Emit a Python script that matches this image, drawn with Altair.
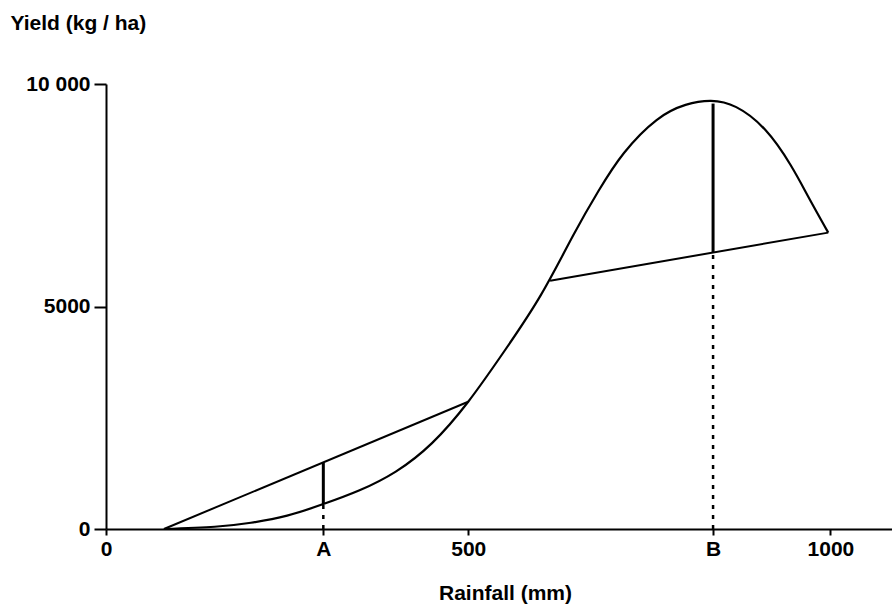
import altair as alt
import pandas as pd

# Yield curve
rain_mm = [80, 150, 200, 250, 300, 350, 400, 450, 500, 550, 600, 645, 680, 715,
           760, 800, 835, 870, 910, 945, 970, 997]
yield_kg = [0, 50, 140, 300, 560, 870, 1290, 1930, 2860, 4000, 5250, 6600, 7600, 8450,
            9190, 9530, 9620, 9480, 8970, 8180, 7450, 6660]

# Chords
chord_id = ["low", "low", "high", "high"]
chord_x = [80, 500, 613, 997]
chord_y = [0, 2860, 5580, 6660]

# Marker points A and B
marker_label = ["A", "B"]
marker_x = [300, 838]
marker_low = [560, 6220]     # lower end of solid segment
marker_high = [1490, 9560]   # upper end of solid segment

# Tick labels
x_tick_values = [0, 300, 500, 838, 1000]
x_tick_labels = ["0", "A", "500", "B", "1000"]
y_tick_values = [0, 5000, 10000]
y_tick_labels = ["0", "5000", "10 000"]


def label_expr(values, labels):
    expr = "''"
    for v, l in reversed(list(zip(values, labels))):
        expr = f"datum.value == {v} ? '{l}' : ({expr})"
    return expr


curve_df = pd.DataFrame({"rain": rain_mm, "yield": yield_kg})
chord_df = pd.DataFrame({"id": chord_id, "rain": chord_x, "yield": chord_y})
marker_df = pd.DataFrame({"label": marker_label, "rain": marker_x,
                          "low": marker_low, "high": marker_high,
                          "zero": [0, 0]})

FONT = "Liberation Sans"
FS = 21

x_scale = alt.Scale(domain=[0, 1085], nice=False, zero=False)
y_scale = alt.Scale(domain=[0, 10000], nice=False)

x_axis = alt.Axis(values=x_tick_values, labelExpr=label_expr(x_tick_values, x_tick_labels),
                  title="Rainfall (mm)", titleX=399, titleY=64, titleAlign="center",
                  titleBaseline="middle", tickSize=6, labelPadding=3, grid=False,
                  labelFlush=False, labelOverlap=False)
y_axis = alt.Axis(values=y_tick_values, labelExpr=label_expr(y_tick_values, y_tick_labels),
                  title="Yield (kg / ha)", titleAngle=0, titleAlign="left",
                  titleBaseline="middle", titleX=-96, titleY=-61,
                  tickSize=12, labelPadding=4, grid=False, labelOverlap=False)

curve = alt.Chart(curve_df).mark_line(color="black", strokeWidth=2.2,
                                      interpolate="natural").encode(
    x=alt.X("rain:Q", scale=x_scale, axis=x_axis),
    y=alt.Y("yield:Q", scale=y_scale, axis=y_axis),
)

chords = alt.Chart(chord_df).mark_line(color="black", strokeWidth=2).encode(
    x=alt.X("rain:Q", scale=x_scale, axis=x_axis),
    y=alt.Y("yield:Q", scale=y_scale, axis=y_axis),
    detail="id:N",
)

solid = alt.Chart(marker_df).mark_rule(color="black", strokeWidth=3).encode(
    x=alt.X("rain:Q", scale=x_scale, axis=x_axis),
    y=alt.Y("low:Q", scale=y_scale, axis=y_axis),
    y2="high:Q",
)

dashed = alt.Chart(marker_df).mark_rule(color="black", strokeWidth=2.5,
                                        strokeDash=[4, 6]).encode(
    x=alt.X("rain:Q", scale=x_scale, axis=x_axis),
    y=alt.Y("zero:Q", scale=y_scale, axis=y_axis),
    y2="low:Q",
)

chart = alt.layer(curve, chords, solid, dashed).properties(
    width=786, height=445,
    padding={"left": 106, "top": 84, "right": 0, "bottom": 81},
    autosize=alt.AutoSizeParams(type="none"),
    background="white",
).configure_view(stroke=None).configure_axis(
    domainColor="black", domainWidth=2, tickColor="black", tickWidth=2,
    labelFont=FONT, labelFontSize=FS, labelColor="black", labelFontWeight="bold",
    titleFont=FONT, titleFontSize=FS, titleColor="black", titleFontWeight="bold",
)

chart.save("out.html", embed_options={"renderer": "svg", "actions": False})
